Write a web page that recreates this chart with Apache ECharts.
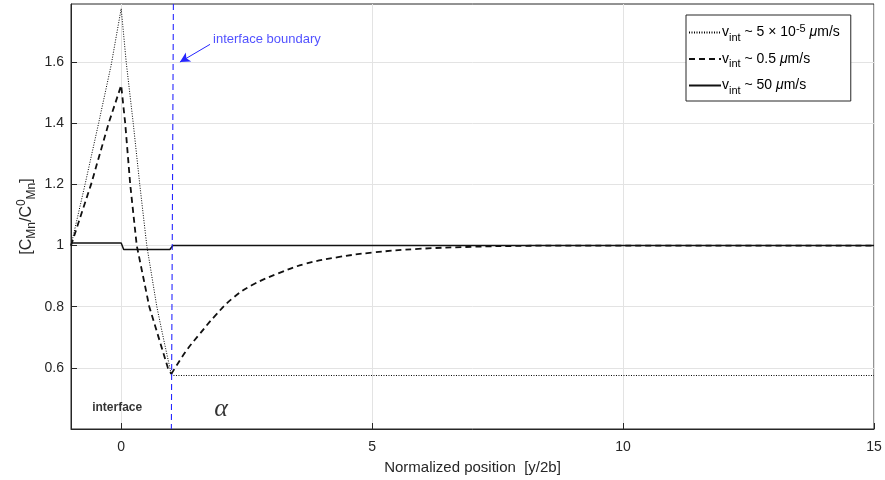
<!DOCTYPE html>
<html>
<head>
<meta charset="utf-8">
<script src="https://cdn.jsdelivr.net/npm/echarts@6/dist/echarts.min.js"></script>
<style>
  html, body { margin: 0; padding: 0; background: #fff; }
  #chart { width: 885px; height: 480px; }
</style>
</head>
<body>
<div id="chart"></div>
<script>
// v_int ~ 5e-5 um/s (dotted)
var xSlow = [-1, -0.72, -0.45, -0.2, 0, 0.1, 0.24, 0.37, 0.51, 0.71, 0.85, 0.97, 1.0, 15];
var ySlow = [1.0, 1.2, 1.4, 1.59, 1.775, 1.6, 1.4, 1.2, 1.0, 0.8, 0.69, 0.6, 0.575, 0.575];

// v_int ~ 0.5 um/s (dashed): spike at the interface, then recovery in alpha
var xMidSpike = [-1, -0.6, -0.25, 0, 0.08, 0.18, 0.31, 0.56, 0.93, 1.0];
var yMidSpike = [1.0, 1.2, 1.4, 1.524, 1.4, 1.2, 1.0, 0.8, 0.6, 0.58];
var xMidTail = [1.0, 1.28, 1.54, 1.87, 2.2, 2.6, 3.13, 3.66, 4.32, 5, 5.92, 7, 8, 9, 15];
var yMidTail = [0.58, 0.652, 0.706, 0.77, 0.825, 0.87, 0.909, 0.94, 0.962, 0.977, 0.989, 0.996, 0.999, 1.0, 1.0];

// v_int ~ 50 um/s (solid)
var xFast = [-1, 0, 0.05, 0.97, 1.03, 15];
var yFast = [1.008, 1.008, 0.987, 0.987, 1.0, 1.0];

// interface boundary (blue dashed)
var xBoundary = [1.04, 1.0];
var yBoundary = [1.79, 0.4];

var xTicks = [0, 5, 10, 15];
var yTicks = [0.6, 0.8, 1, 1.2, 1.4, 1.6];

var seriesNames = ['slow', 'mid', 'fast'];
var legendText = {
    slow: 'v{sub|int} ~ 5 \u00d7 10{sup|-5} {mu|\u03bc}m/s',
    mid: 'v{sub|int} ~ 0.5 {mu|\u03bc}m/s',
    fast: 'v{sub|int} ~ 50 {mu|\u03bc}m/s'
};

function zip(xs, ys) {
    return xs.map(function (x, i) { return [x, ys[i]]; });
}

var axisColor = '#262626';
var font = 'Liberation Sans, Arial, sans-serif';
var dashed = { color: '#111', width: 1.8, type: [6, 4] };

var option = {
    animation: false,
    backgroundColor: '#fff',
    textStyle: { fontFamily: font },
    grid: {
        left: 71, right: 11, top: 4, bottom: 51,
        outerBoundsMode: 'none',
        show: true,
        borderColor: axisColor,
        borderWidth: 1
    },
    legend: {
        data: seriesNames,
        orient: 'vertical',
        left: 686,
        top: 15,
        padding: [8, 11, 5, 2],
        itemWidth: 32,
        itemHeight: 12,
        itemGap: 9,
        backgroundColor: '#fff',
        borderColor: axisColor,
        borderWidth: 1,
        borderRadius: 0,
        itemStyle: { opacity: 0 },
        formatter: function (name) { return legendText[name]; },
        textStyle: {
            fontSize: 14,
            color: '#000',
            padding: [0, 0, 0, -4],
            rich: {
                sub: { fontSize: 11, padding: [10, 0, 0, 0] },
                sup: { fontSize: 11, padding: [0, 0, 8, 0] },
                mu: { fontSize: 14, fontStyle: 'italic' }
            }
        }
    },
    xAxis: {
        type: 'value',
        min: -1,
        max: 15,
        name: 'Normalized position  [y/2b]',
        nameLocation: 'middle',
        nameGap: 31,
        nameMoveOverlap: false,
        nameTextStyle: { fontSize: 15, color: axisColor },
        axisLine: { onZero: false, lineStyle: { color: axisColor } },
        axisTick: { inside: true, length: 6, customValues: xTicks, lineStyle: { color: axisColor } },
        axisLabel: { customValues: xTicks, fontSize: 14, color: axisColor, margin: 11 },
        splitLine: { show: true, lineStyle: { color: '#e3e3e3' } }
    },
    yAxis: {
        type: 'value',
        min: 0.4,
        max: 1.79,
        name: '[C{sub|Mn}/C{sup|0}{sub|Mn}]',
        nameLocation: 'middle',
        nameGap: 33,
        nameMoveOverlap: false,
        nameRotate: 90,
        nameTextStyle: {
            fontSize: 16,
            color: axisColor,
            rich: {
                sub: { fontSize: 12, padding: [10, 0, 0, 0] },
                sup: { fontSize: 12, padding: [0, 0, 10, 0] }
            }
        },
        axisLine: { show: true, onZero: false, lineStyle: { color: axisColor } },
        axisTick: { show: true, inside: true, length: 6, customValues: yTicks, lineStyle: { color: axisColor } },
        axisLabel: { customValues: yTicks, fontSize: 14, color: axisColor, margin: 7 },
        splitLine: { show: true, lineStyle: { color: '#e3e3e3' } }
    },
    series: [
        {
            name: 'boundary',
            type: 'line',
            symbol: 'none',
            silent: true,
            data: zip(xBoundary, yBoundary),
            lineStyle: { color: '#2626ff', width: 1.1, type: [6, 4] },
            markLine: {
                silent: true,
                symbol: ['none', 'arrow'],
                symbolSize: [8, 10],
                label: { show: false },
                lineStyle: { color: '#2626ff', width: 1, type: 'solid' },
                data: [[{ coord: [1.77, 1.658] }, { coord: [1.17, 1.6] }]]
            },
            z: 5
        },
        {
            name: 'slow',
            type: 'line',
            symbol: 'none',
            color: '#000',
            data: zip(xSlow, ySlow),
            lineStyle: { color: '#000', width: 1, type: [1, 1.5] },
            z: 3
        },
        {
            name: 'mid',
            type: 'line',
            symbol: 'none',
            color: '#000',
            data: zip(xMidSpike, yMidSpike),
            lineStyle: dashed,
            z: 3
        },
        {
            name: 'mid',
            type: 'line',
            symbol: 'none',
            smooth: 0.4,
            color: '#000',
            data: zip(xMidTail, yMidTail),
            lineStyle: dashed,
            z: 3
        },
        {
            name: 'fast',
            type: 'line',
            symbol: 'none',
            color: '#000',
            data: zip(xFast, yFast),
            lineStyle: { color: '#111', width: 1.5, type: 'solid' },
            z: 3
        },
        {
            name: 'notes',
            type: 'scatter',
            symbolSize: 0,
            silent: true,
            data: [
                { value: [1.83, 1.674], label: { formatter: 'interface boundary', position: 'right', distance: 0, color: '#2626ff', fontSize: 13 } },
                { value: [-0.08, 0.47], label: { formatter: 'interface', position: 'inside', color: '#000', fontSize: 12, fontWeight: 'bold' } },
                { value: [1.99, 0.466], label: { formatter: '\u03b1', position: 'inside', color: '#000', fontSize: 26, fontStyle: 'italic', fontFamily: 'Liberation Serif, DejaVu Serif, serif' } }
            ],
            label: { show: true },
            z: 4
        }
    ]
};

var chart = echarts.init(document.getElementById('chart'));
chart.setOption(option);
</script>
</body>
</html>
